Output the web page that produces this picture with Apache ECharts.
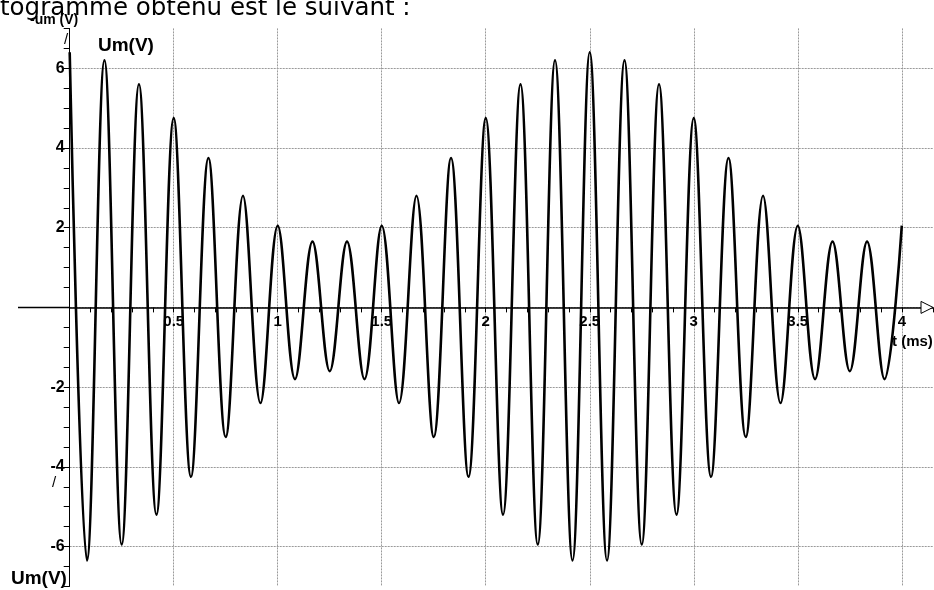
<!DOCTYPE html>
<html>
<head>
<meta charset="utf-8">
<script src="https://cdn.jsdelivr.net/npm/echarts@6/dist/echarts.min.js"></script>
<style>
  html, body { margin: 0; padding: 0; background: #fff; }
  #main { width: 934px; height: 590px; }
</style>
</head>
<body>
<div id="main"></div>
<script>
var times = [0, 0.083, 0.167, 0.25, 0.333, 0.417, 0.5, 0.583, 0.667, 0.75, 0.833, 0.917,
  1, 1.083, 1.167, 1.25, 1.333, 1.417, 1.5, 1.583, 1.667, 1.75, 1.833, 1.917,
  2, 2.083, 2.167, 2.25, 2.333, 2.417, 2.5, 2.583, 2.667, 2.75, 2.833, 2.917,
  3, 3.083, 3.167, 3.25, 3.333, 3.417, 3.5, 3.583, 3.667, 3.75, 3.833, 3.917, 4];
// tension Um (V) a ces instants
var volts = [6.4, -6.35, 6.2, -5.95, 5.6, -5.2, 4.75, -4.25, 3.75, -3.25, 2.8, -2.4,
  2.05, -1.8, 1.65, -1.6, 1.65, -1.8, 2.05, -2.4, 2.8, -3.25, 3.75, -4.25,
  4.75, -5.2, 5.6, -5.95, 6.2, -6.35, 6.4, -6.35, 6.2, -5.95, 5.6, -5.2,
  4.75, -4.25, 3.75, -3.25, 2.8, -2.4, 2.05, -1.8, 1.65, -1.6, 1.65, -1.8, 2.05];
var xLabels = [0.5, 1, 1.5, 2, 2.5, 3, 3.5, 4];
var yLabels = [-6, -4, -2, 2, 4, 6];

var chart = echarts.init(document.getElementById('main'));
var grey = '#9a9a9a';
var boldFont = '"Liberation Sans", Arial, sans-serif';

// hauteur du trace : 7 V de part et d'autre de zero
var gridTop = 28.4, gridBottom = 3.6;
var zeroOffset = (590 - gridTop - gridBottom) / 2;

var option = {
  animation: false,
  grid: { left: 69.7, right: 1, top: gridTop, bottom: gridBottom, containLabel: false, outerBoundsMode: 'none' },
  xAxis: {
    type: 'value',
    min: 0,
    max: 4.15,
    interval: 0.1,
    position: 'bottom',
    offset: -zeroOffset,
    axisLine: { onZero: false, lineStyle: { color: '#000', width: 1.5 } },
    axisTick: { show: true, inside: false, length: 5, lineStyle: { color: '#000', width: 1 } },
    axisLabel: {
      margin: 7,
      color: '#000',
      fontFamily: boldFont,
      fontWeight: 'bold',
      fontSize: 15,
      formatter: function (v) {
        var r = Math.round(v * 10) / 10;
        return xLabels.indexOf(r) >= 0 ? String(r) : '';
      }
    },
    splitLine: {
      show: true,
      lineStyle: { color: [grey, 'none', 'none', 'none', 'none'], width: 1, type: [2, 1] }
    }
  },
  yAxis: {
    type: 'value',
    min: -7,
    max: 7,
    interval: 0.5,
    axisLine: { onZero: true, lineStyle: { color: '#000', width: 1 } },
    axisTick: { show: true, inside: false, length: 6, lineStyle: { color: '#000', width: 1 } },
    axisLabel: {
      margin: 5,
      color: '#000',
      fontFamily: boldFont,
      fontWeight: 'bold',
      fontSize: 16,
      formatter: function (v) {
        var r = Math.round(v * 2) / 2;
        return yLabels.indexOf(r) >= 0 ? String(r) : '';
      }
    },
    splitLine: {
      show: true,
      lineStyle: { color: ['none', 'none', grey, 'none'], width: 1, type: [2, 1] }
    }
  },
  series: [{
    type: 'line',
    data: times.map(function (t, i) { return [t, volts[i]]; }),
    smooth: 0.37,
    showSymbol: false,
    symbol: 'none',
    lineStyle: { color: '#000', width: 2.6 },
    z: 5
  }]
};
chart.setOption(option);

// prolongement de l'axe des temps, fleche et textes
var o = chart.convertToPixel({ gridIndex: 0 }, [0, 0]);
var end = chart.convertToPixel({ gridIndex: 0 }, [4.15, 0]);
chart.setOption({
  graphic: [
    { type: 'line', shape: { x1: 18, y1: o[1], x2: o[0], y2: o[1] }, style: { stroke: '#000', lineWidth: 1.5 }, z: 10 },
    { type: 'polygon', shape: { points: [[end[0] - 12, o[1] - 6], [end[0], o[1]], [end[0] - 12, o[1] + 6]] },
      style: { fill: '#fff', stroke: '#000', lineWidth: 1 }, z: 10 },
    { type: 'text', x: 30, y: 20, z: 10,
      style: { text: '-um (V)', font: 'bold 14px ' + boldFont, fill: '#000', verticalAlign: 'middle' } },
    { type: 'text', x: 0, y: 9, z: 11,
      style: { text: 'togramme obtenu est le suivant :', font: '24.5px "DejaVu Sans"', fill: '#000', verticalAlign: 'middle' } },
    { type: 'text', x: 98, y: 46, z: 10,
      style: { text: 'Um(V)', font: 'bold 19px ' + boldFont, fill: '#000', verticalAlign: 'middle' } },
    { type: 'text', x: 11, y: 579, z: 10,
      style: { text: 'Um(V)', font: 'bold 19px ' + boldFont, fill: '#000', verticalAlign: 'middle' } },
    { type: 'text', x: 892, y: 342, z: 10,
      style: { text: 't (ms)', font: 'bold 15px ' + boldFont, fill: '#000', verticalAlign: 'middle' } },
    { type: 'text', x: 64, y: 40, z: 10,
      style: { text: '/', font: '15px ' + boldFont, fill: '#000', verticalAlign: 'middle' } },
    { type: 'text', x: 52, y: 483, z: 10,
      style: { text: '/', font: '15px ' + boldFont, fill: '#000', verticalAlign: 'middle' } }
  ]
});
</script>
</body>
</html>
